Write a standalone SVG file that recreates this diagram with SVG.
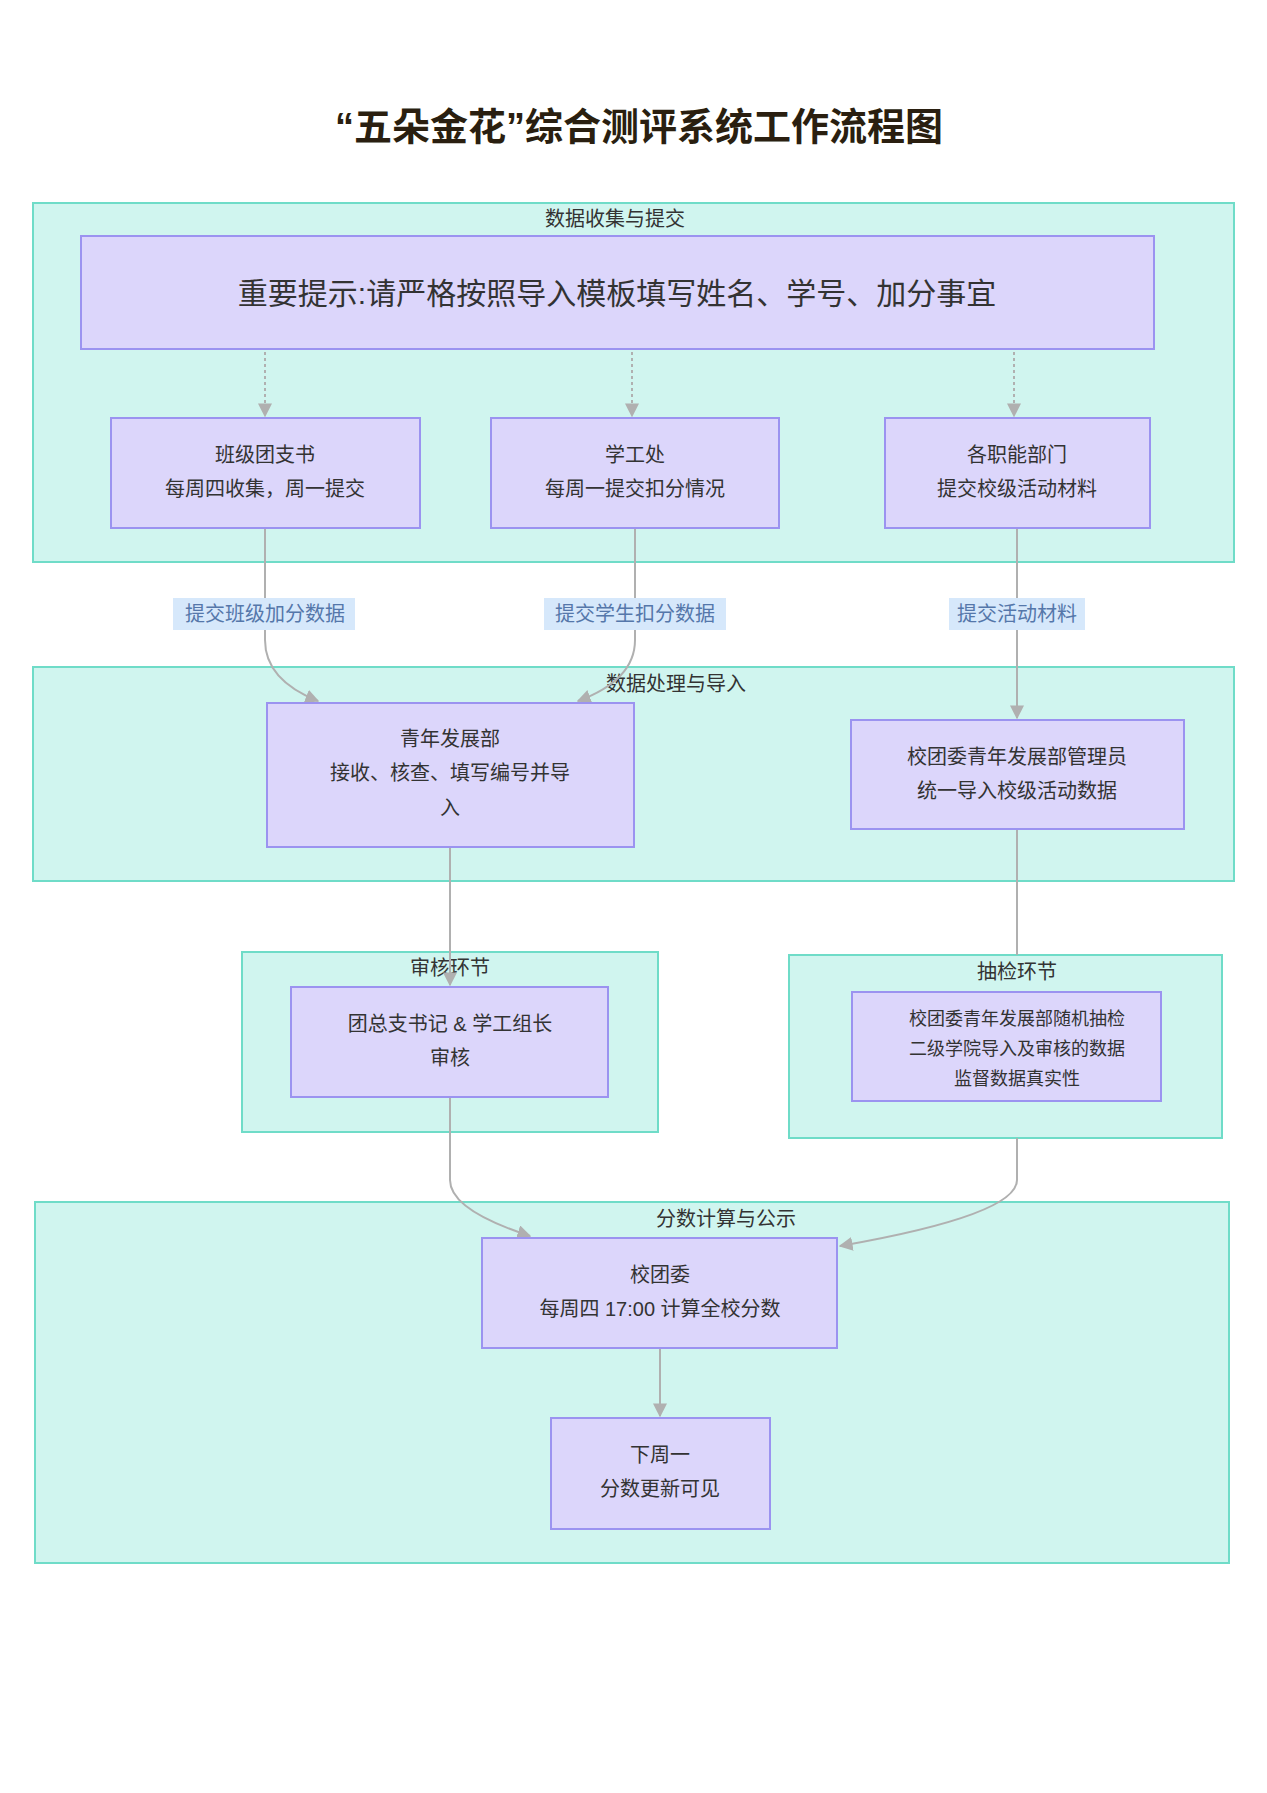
<svg xmlns="http://www.w3.org/2000/svg" width="1267" height="1793" viewBox="0 0 1267 1793">
<style>
text{font-family:"Liberation Sans","Noto Sans CJK SC",sans-serif;fill:#333;text-anchor:middle}
.cl{fill:#d0f5ef;stroke:#6fdcc8;stroke-width:2}
.nd{fill:#dcd6fb;stroke:#9b93f0;stroke-width:2}
.e{fill:none;stroke:#b0b0b0;stroke-width:2}
.lb{fill:#d6e8fb}
.t{font-size:20px}
.ct{font-size:20px}
.lt{font-size:20px;fill:#5577aa}
</style>
<defs><marker id="a" viewBox="0 0 10 10" refX="9" refY="5" markerWidth="7" markerHeight="7" orient="auto"><path d="M0,0L10,5L0,10z" fill="#b0b0b0"/></marker></defs>
<rect width="1267" height="1793" fill="#fff"/>
<text x="639" y="140" style="font-size:38px;font-weight:bold;fill:#2a1f10">“五朵金花”综合测评系统工作流程图</text>
<g id="c1"><rect class="cl" x="33" y="203" width="1201" height="359"/><text class="ct" x="615" y="226">数据收集与提交</text></g>
<g id="c2"><rect class="cl" x="33" y="667" width="1201" height="214"/><text class="ct" x="676" y="691">数据处理与导入</text></g>
<g id="c3"><rect class="cl" x="242" y="952" width="416" height="180"/><text class="ct" x="450" y="975">审核环节</text></g>
<g id="c4"><rect class="cl" x="789" y="955" width="433" height="183"/><text class="ct" x="1017" y="979">抽检环节</text></g>
<g id="c5"><rect class="cl" x="35" y="1202" width="1194" height="361"/><text class="ct" x="726" y="1226">分数计算与公示</text></g>
<g id="conn">
<path class="e" stroke-dasharray="3,3" marker-end="url(#a)" d="M265,352V416"/>
<path class="e" stroke-dasharray="3,3" marker-end="url(#a)" d="M632,352V416"/>
<path class="e" stroke-dasharray="3,3" marker-end="url(#a)" d="M1014,352V416"/>
<path class="e" marker-end="url(#a)" d="M265,528V640Q265,680 318,701"/>
<path class="e" marker-end="url(#a)" d="M635,528V640Q635,680 578,701"/>
<path class="e" marker-end="url(#a)" d="M1017,528V718"/>
<path class="e" marker-end="url(#a)" d="M450,847V985"/>
<path class="e" d="M1017,829V955"/>
<path class="e" d="M450,1097V1180Q450,1210 530,1236" marker-end="url(#a)"/>
<path class="e" marker-end="url(#a)" d="M1017,1138V1180Q1017,1215 840,1246"/>
<path class="e" marker-end="url(#a)" d="M660,1348V1416"/>
</g>
<g id="lbl1"><rect class="lb" x="173" y="598" width="182" height="32"/><text class="lt" x="265" y="621">提交班级加分数据</text></g>
<g id="lbl2"><rect class="lb" x="544" y="598" width="182" height="32"/><text class="lt" x="635" y="621">提交学生扣分数据</text></g>
<g id="lbl3"><rect class="lb" x="949" y="598" width="136" height="32"/><text class="lt" x="1017" y="621">提交活动材料</text></g>
<g id="n0"><rect class="nd" x="81" y="236" width="1073" height="113"/><text x="617" y="304" style="font-size:30px">重要提示:请严格按照导入模板填写姓名、学号、加分事宜</text></g>
<g id="n1"><rect class="nd" x="111" y="418" width="309" height="110"/><text class="t" x="265" y="462">班级团支书</text><text class="t" x="265" y="496">每周四收集，周一提交</text></g>
<g id="n2"><rect class="nd" x="491" y="418" width="288" height="110"/><text class="t" x="635" y="462">学工处</text><text class="t" x="635" y="496">每周一提交扣分情况</text></g>
<g id="n3"><rect class="nd" x="885" y="418" width="265" height="110"/><text class="t" x="1017" y="462">各职能部门</text><text class="t" x="1017" y="496">提交校级活动材料</text></g>
<g id="n4"><rect class="nd" x="267" y="703" width="367" height="144"/><text class="t" x="450" y="746">青年发展部</text><text class="t" x="450" y="780">接收、核查、填写编号并导</text><text class="t" x="450" y="815">入</text></g>
<g id="n5"><rect class="nd" x="851" y="720" width="333" height="109"/><text class="t" x="1017" y="764">校团委青年发展部管理员</text><text class="t" x="1017" y="798">统一导入校级活动数据</text></g>
<g id="n6"><rect class="nd" x="291" y="987" width="317" height="110"/><text class="t" x="450" y="1031">团总支书记 &amp; 学工组长</text><text class="t" x="450" y="1065">审核</text></g>
<g id="n7"><rect class="nd" x="852" y="992" width="309" height="109"/><text x="1017" y="1025" style="font-size:18px">校团委青年发展部随机抽检</text><text x="1017" y="1055" style="font-size:18px">二级学院导入及审核的数据</text><text x="1017" y="1085" style="font-size:18px">监督数据真实性</text></g>
<g id="n8"><rect class="nd" x="482" y="1238" width="355" height="110"/><text class="t" x="660" y="1282">校团委</text><text class="t" x="660" y="1316">每周四 17:00 计算全校分数</text></g>
<g id="n9"><rect class="nd" x="551" y="1418" width="219" height="111"/><text class="t" x="660" y="1462">下周一</text><text class="t" x="660" y="1496">分数更新可见</text></g>
</svg>
